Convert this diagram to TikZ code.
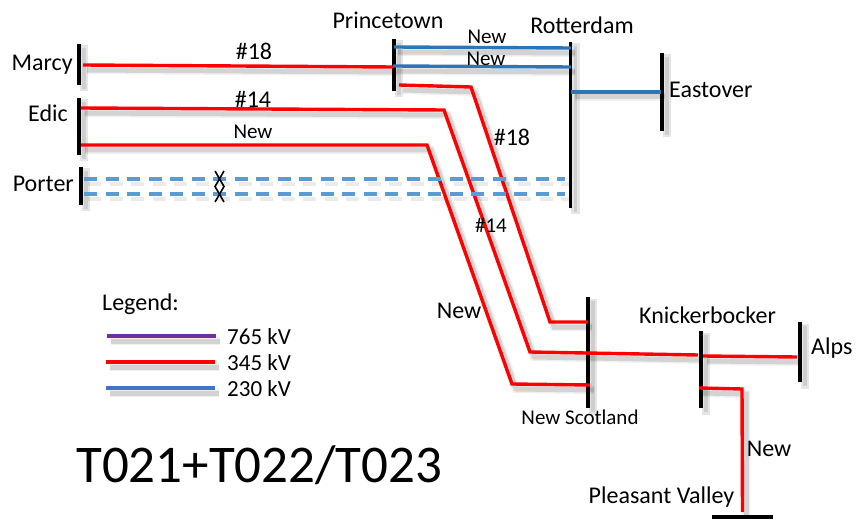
\documentclass[tikz,border=0pt]{standalone}
\usepackage{fontspec}
\setmainfont{Carlito}
\usepackage{xcolor}
\usepackage{tikz}
\usetikzlibrary{positioning,calc}

\definecolor{line345}{HTML}{FF0000}
\definecolor{line230}{HTML}{2E75B6}
\definecolor{line230b}{HTML}{4472C4}
\definecolor{line765}{HTML}{7030A0}
\definecolor{planned}{HTML}{5B9BD5}

\begin{document}
\begin{tikzpicture}[
    x=1pt, y=-1pt,
    node distance=4pt and 4pt,
    softshadow/.style={
        preaction={draw=black, opacity=0.06, line width=8pt, line cap=butt, transform canvas={xshift=4pt, yshift=-5pt}},
        preaction={draw=black, opacity=0.12, line width=5pt, line cap=butt, transform canvas={xshift=4pt, yshift=-5pt}}
    },
    wire/.style={softshadow, line width=3.4pt, line join=miter},
    hv345/.style={wire, draw=line345},
    hv230/.style={wire, draw=line230},
    leg/.style={softshadow, line width=3.4pt},
    plannedline/.style={draw=planned, line width=3.2pt, dash pattern=on 13pt off 8.5pt,
        preaction={draw=black, opacity=0.08, line width=4pt, dash pattern=on 13pt off 8.5pt, transform canvas={xshift=4pt, yshift=-5pt}}},
    bus/.style={rectangle, fill=black, inner sep=0pt, minimum width=3.8pt, minimum height=#1,
        preaction={draw=black, fill=black, opacity=0.10, line width=5pt, transform canvas={xshift=5pt, yshift=-4pt}}},
    hbus/.style={rectangle, fill=black, inner sep=0pt, minimum height=3.8pt, minimum width=#1},
    busname/.style={inner sep=0pt, font=\fontsize{24}{27}\selectfont},
    newlabel/.style={inner sep=0pt, font=\fontsize{21}{24}\selectfont},
    keylabel/.style={inner sep=0pt, anchor=west, font=\fontsize{23}{26}\selectfont}
]
\useasboundingbox (0,0) rectangle (856,521);

% Substation buses
\node[bus=41pt] (marcy) at (79,64.5) {};
\node[bus=57pt] (edic) at (79,126.5) {};
\node[bus=38pt] (porter) at (81,186) {};
\node[bus=52pt] (prince) at (394,65) {};
\node[bus=166pt] (rotter) at (570.5,125) {};
\node[bus=78pt] (eastover) at (662,92) {};
\node[bus=111pt] (scotland) at (588,352.5) {};
\node[bus=77pt] (knick) at (701,369.5) {};
\node[bus=60pt] (alps) at (800,352) {};
\node[hbus=61pt] (pleasant) at (742.5,517) {};

% Bus names
\node[busname, left=4pt of marcy] (marcyname) {Marcy};
\node[busname, anchor=east] (edicname) at (68,113) {Edic};
\node[busname, anchor=east] (portername) at (74,184) {Porter};
\node[busname] (princename) at (388,20) {Princetown};
\node[busname] (rottername) at (582,25) {Rotterdam};
\node[busname, anchor=west] (eastname) at (669,90) {Eastover};
\node[newlabel] (scotname) at (580,417) {New Scotland};
\node[busname] (knickname) at (707.5,315) {Knickerbocker};
\node[busname, anchor=west] (alpsname) at (811,348) {Alps};
\node[busname] (pleasname) at (661.5,497) {Pleasant Valley};

% Bends of the 345 kV lines
\coordinate (bendA) at (471,87);
\coordinate (bendB) at (550,322);
\coordinate (bendC) at (444,110);
\coordinate (bendD) at (530,352);
\coordinate (bendE) at (427,145);
\coordinate (bendF) at (512,384);
\coordinate (bendG) at (742,389);

% 345 kV lines
\draw[hv345] ([shift={(4,0.5)}]marcy.center) -- ([shift={(-1,2)}]prince.center);
\draw[hv345] ([shift={(5,20)}]prince.center) -- (bendA) -- (bendB) -- ([shift={(0,-30.5)}]scotland.center);
\draw[hv345] ([shift={(2,-18.5)}]edic.center) -- (bendC) -- (bendD) -- ([shift={(110,2.5)}]scotland.center);
\draw[hv345] ([shift={(2,18.5)}]edic.center) -- (bendE) -- (bendF) -- ([shift={(2,32.5)}]scotland.center);
\draw[hv345] ([shift={(2,-13.5)}]knick.center) -- ([shift={(-3,5)}]alps.center);
\draw[hv345] ([shift={(-2,18.5)}]knick.center) -- (bendG) -- ([shift={(0,-5)}]pleasant.center);

% 230 kV lines
\draw[hv230] ([shift={(0,-18)}]prince.center) -- ([shift={(0.5,-77)}]rotter.center);
\draw[hv230] ([shift={(-1,1)}]prince.center) -- ([shift={(0.5,-58)}]rotter.center);
\draw[hv230] ([shift={(0.5,-33)}]rotter.center) -- ([shift={(-1,0)}]eastover.center);

% Planned lines from Porter
\draw[plannedline] ([shift={(3,-7)}]porter.center) -- ([shift={(-5.5,54)}]rotter.center);
\draw[plannedline] ([shift={(3,8)}]porter.center) -- ([shift={(-5.5,69)}]rotter.center);

% Crossing of the two planned lines
\draw[line width=1.6pt] (215,171) -- (224,186.5) -- (215,202);
\draw[line width=1.6pt] (224,171) -- (215,186.5) -- (224,202);

% Line labels
\node[busname] (lblA) at (254,51) {\#18};
\node[busname] (lblB) at (253,99) {\#14};
\node[newlabel] (lblC) at (253,132) {New};
\node[newlabel] (lblD) at (487,37) {New};
\node[newlabel] (lblE) at (486,59) {New};
\node[busname] (lblF) at (512,137) {\#18};
\node[newlabel] (lblG) at (491,225) {\#14};
\node[busname] (lblH) at (459,311) {New};
\node[busname] (lblI) at (769,449) {New};

% Legend
\node[busname, anchor=west] (legend) at (102,304) {Legend:};
\node[keylabel] (kv765) at (227,337) {765 kV};
\node[keylabel] (kv345) at (227,363) {345 kV};
\node[keylabel] (kv230) at (227,389) {230 kV};
\coordinate (leg765) at (107,336);
\coordinate (leg345) at (106,362);
\coordinate (leg230) at (106,388);
\draw[leg, draw=line765] (leg765) -- ([shift={(-11,-1)}]kv765.west);
\draw[leg, draw=line345] (leg345) -- ([shift={(-12,-1)}]kv345.west);
\draw[leg, draw=line230b] (leg230) -- ([shift={(-12,-1)}]kv230.west);

% Case title
\node[inner sep=0pt, anchor=west, font=\fontsize{53}{59}\selectfont] (casetitle) at (76,465) {T021+T022/T023};

\end{tikzpicture}
\end{document}
